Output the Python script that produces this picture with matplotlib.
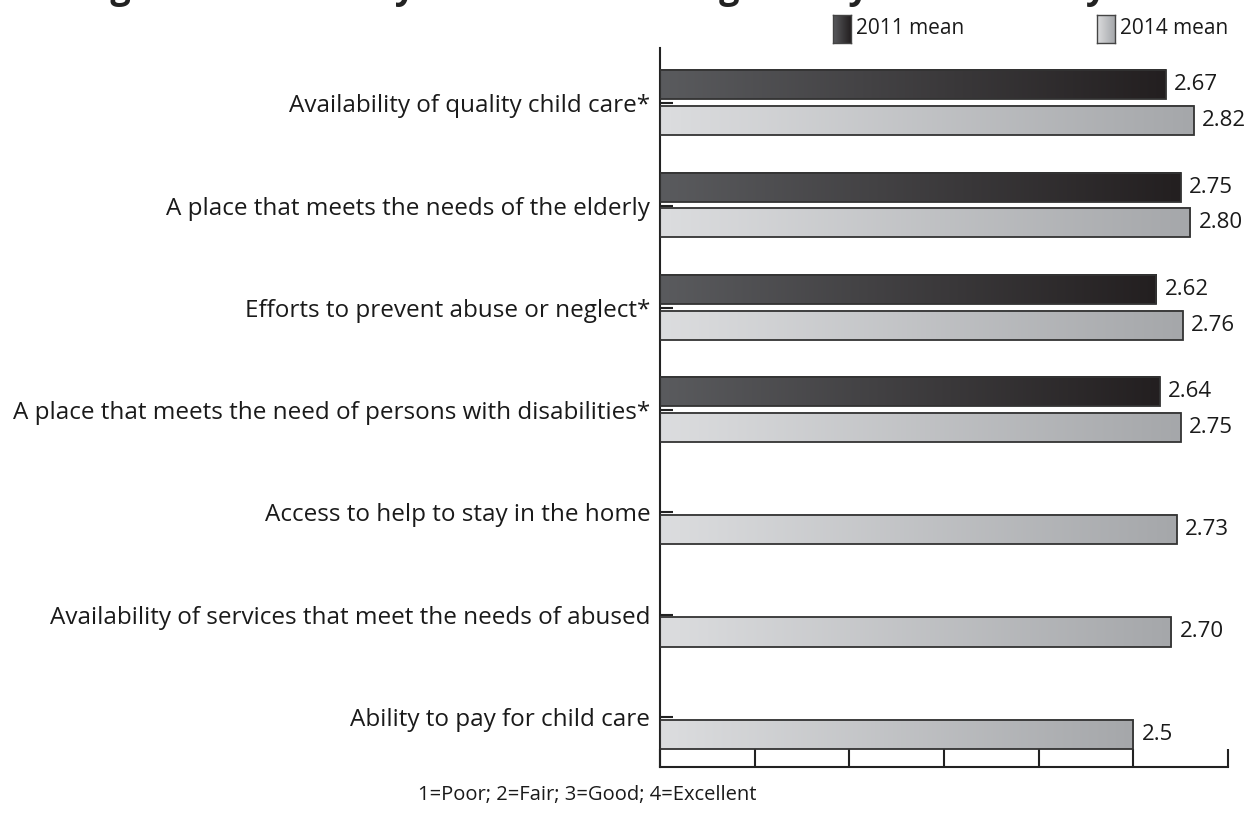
import numpy as np
import matplotlib
matplotlib.use("Agg")
import matplotlib.pyplot as plt
from matplotlib.colors import LinearSegmentedColormap

# datos
categorias = [
    "Availability of quality child care*",
    "A place that meets the needs of the elderly",
    "Efforts to prevent abuse or neglect*",
    "A place that meets the need of persons with disabilities*",
    "Access to help to stay in the home",
    "Availability of services that meet the needs of abused",
    "Ability to pay for child care",
]
media_2011 = [2.67, 2.75, 2.62, 2.64, np.nan, np.nan, np.nan]
media_2014 = [2.82, 2.80, 2.76, 2.75, 2.73, 2.70, 2.5]
etiquetas_2011 = ["2.67", "2.75", "2.62", "2.64", "", "", ""]
etiquetas_2014 = ["2.82", "2.80", "2.76", "2.75", "2.73", "2.70", "2.5"]
series = ["2011 mean", "2014 mean"]
nota = "1=Poor; 2=Fair; 3=Good; 4=Excellent"
titulo = "Ratings of Community Services: Meeting Family Needs Today"

plt.rcParams['font.family'] = ['Open Sans', 'DejaVu Sans']

cmap_2011 = LinearSegmentedColormap.from_list("c2011", ["#5a5b5e", "#231f20"])
cmap_2014 = LinearSegmentedColormap.from_list("c2014", ["#dcdddf", "#a5a7aa"])
gradiente = np.linspace(0, 1, 256).reshape(1, -1)

fig = plt.figure(figsize=(12.59, 8.16), dpi=100)
ax = fig.add_axes([660 / 1259, 1 - 767 / 816, (1228 - 660) / 1259, (767 - 48) / 816])

y = np.arange(len(categorias))
alto = 0.285
b1 = ax.barh(y - 0.18, media_2011, height=alto, facecolor="none",
             edgecolor="#333333", linewidth=1.3, zorder=3)
b2 = ax.barh(y + 0.17, media_2014, height=alto, facecolor="none",
             edgecolor="#333333", linewidth=1.3, zorder=3)

for barras, cmap in [(b1, cmap_2011), (b2, cmap_2014)]:
    for r in barras:
        w = r.get_width()
        if not np.isfinite(w):
            continue
        ax.imshow(gradiente, cmap=cmap, aspect="auto", zorder=2,
                  extent=[r.get_x(), r.get_x() + w, r.get_y() + r.get_height(), r.get_y()])

for barras, textos in [(b1, etiquetas_2011), (b2, etiquetas_2014)]:
    for r, t in zip(barras, textos):
        w = r.get_width()
        if not np.isfinite(w) or t == "":
            continue
        ax.annotate(t, (w, r.get_y() + r.get_height() / 2), xytext=(6, 0),
                    textcoords="offset points", va="center", ha="left",
                    fontsize=16, color="#1a1a1a")

ax.set_xlim(0, 3)
ax.set_ylim(6.49, -0.54)
ax.set_yticks(y)
ax.set_yticklabels(categorias, fontsize=17.5, color="#1a1a1a")
ax.set_xticks(np.arange(0, 3.01, 0.5))
ax.set_xticklabels([])
ax.tick_params(axis="y", direction="in", length=9, width=1.5, pad=7, color="#222222")
ax.tick_params(axis="x", direction="in", length=13, width=1.5, color="#222222")
ax.spines[["top", "right"]].set_visible(False)
for s in ["left", "bottom"]:
    ax.spines[s].set_linewidth(1.5)
    ax.spines[s].set_color("#222222")

# leyenda con cuadros degradados
for (x0, cmap, nombre) in [(833, cmap_2011, series[0]), (1097, cmap_2014, series[1])]:
    lax = fig.add_axes([x0 / 1259, 1 - 43 / 816, 18 / 1259, 28 / 816])
    lax.imshow(gradiente, cmap=cmap, aspect="auto")
    lax.set_xticks([])
    lax.set_yticks([])
    for s in lax.spines.values():
        s.set_color("#444444")
        s.set_linewidth(1)
    fig.text((x0 + 23) / 1259, 1 - 29 / 816, nombre, fontsize=15,
             va="center", ha="left", color="#1a1a1a")

fig.text(587 / 1259, 1 - 795 / 816, nota, fontsize=14.5, ha="center", va="center",
         color="#1a1a1a")
fig.text(560 / 1259, 1 + 2 / 816, titulo, fontsize=26, fontweight="bold",
         ha="center", va="baseline", color="#222222")

fig.savefig("out.png", dpi=100)
